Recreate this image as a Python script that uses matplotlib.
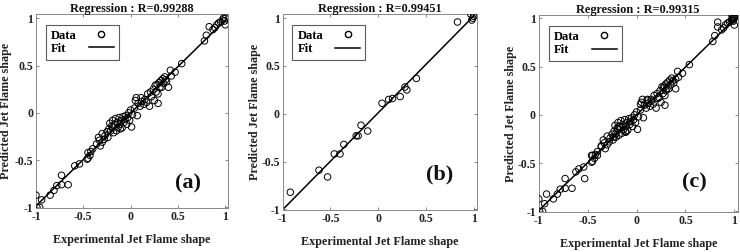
import numpy as np
import matplotlib
matplotlib.use('Agg')
import matplotlib.pyplot as plt
from matplotlib.lines import Line2D

plt.rcParams['font.family'] = 'Liberation Serif'
plt.rcParams['font.weight'] = 'bold'

# panel (a) data
x_a = [-1.00, -0.99, -0.96, -0.94, -0.85, -0.81, -0.78, -0.73, -0.73, -0.66,
       -0.59, -0.54, -0.46, -0.45, -0.43, -0.42, -0.40, -0.36, -0.34, -0.33,
       -0.32, -0.30, -0.30, -0.27, -0.25, -0.24, -0.23, -0.22, -0.21, -0.20,
       -0.19, -0.18, -0.17, -0.16, -0.15, -0.14, -0.13, -0.12, -0.11, -0.10,
       -0.09, -0.08, -0.07, -0.06, -0.05, -0.04, -0.03, -0.02, -0.01, 0.00,
       0.01, 0.02, 0.04, 0.05, 0.06, 0.07, 0.08, 0.10, 0.12, 0.15,
       0.17, 0.18, 0.20, 0.21, 0.22, 0.24, 0.25, 0.26, 0.27, 0.28,
       0.29, 0.29, 0.30, 0.31, 0.32, 0.33, 0.34, 0.35, 0.36, 0.37,
       0.38, 0.40, 0.42, 0.43, 0.47, 0.54, 0.78, 0.80, 0.83, 0.87,
       0.89, 0.91, 0.93, 0.95, 0.97, 0.98, 1.00, 1.00, 0.99, -0.45,
       -0.28, 0.11, 0.14, -0.19, -0.11]
y_a = [-0.87, -1.00, -1.00, -0.92, -0.87, -0.82, -0.77, -0.76, -0.66, -0.76,
       -0.56, -0.54, -0.49, -0.48, -0.45, -0.41, -0.38, -0.33, -0.26, -0.29,
       -0.35, -0.31, -0.22, -0.24, -0.20, -0.26, -0.17, -0.11, -0.19, -0.14,
       -0.08, -0.21, -0.12, -0.06, -0.19, -0.10, -0.15, -0.05, -0.12, -0.08,
       -0.16, -0.04, -0.10, -0.07, -0.03, -0.12, -0.05, 0.00, -0.08, 0.03,
       -0.15, -0.02, 0.05, 0.13, 0.16, -0.03, 0.10, 0.07, 0.12, 0.14,
       0.11, 0.20, 0.07, 0.22, 0.17, 0.25, 0.13, 0.29, 0.22, 0.30,
       0.10, 0.20, 0.32, 0.27, 0.34, 0.27, 0.36, 0.31, 0.38, 0.35,
       0.33, 0.27, 0.45, 0.39, 0.43, 0.52, 0.76, 0.82, 0.91, 0.88,
       0.90, 0.93, 0.95, 0.96, 0.98, 1.00, 0.93, 1.00, 0.97, -0.42,
       -0.28, 0.16, 0.09, -0.15, -0.17]

# panel (b) data
x_b = [-0.92, -0.62, -0.53, -0.46, -0.40, -0.36, -0.23, -0.21, -0.18, -0.11,
       0.04, 0.11, 0.15, 0.23, 0.28, 0.30, 0.40, 0.83, 0.97, 0.98, 1.00, 0.99]
y_b = [-0.82, -0.59, -0.66, -0.42, -0.42, -0.32, -0.23, -0.23, -0.12, -0.18,
       0.11, 0.15, 0.16, 0.18, 0.28, 0.25, 0.37, 0.96, 1.04, 0.98, 1.02, 1.00]

# panel (c): all data
x_c = x_a + x_b
y_c = y_a + y_b

titles = ['Regression : R=0.99288', 'Regression : R=0.99451', 'Regression : R=0.99315']
tags = ['(a)', '(b)', '(c)']
tick_vals = [-1, -0.5, 0, 0.5, 1]
tick_labels = ['-1', '-0.5', '0', '0.5', '1']

fig = plt.figure(figsize=(7.4, 2.52), dpi=100)
boxes = [[0.0486, 0.175, 0.259, 0.770],
         [0.382, 0.167, 0.262, 0.778],
         [0.728, 0.159, 0.269, 0.782]]
lims = [(1.025, 1.046), (1.03, 1.045), (1.035, 1.035)]
tag_pos = [(0.61, -0.75), (0.64, -0.63), (0.59, -0.70)]
ylab_pad = [2, 0, 0]

for i, (xs, ys) in enumerate([(x_a, y_a), (x_b, y_b), (x_c, y_c)]):
    ax = fig.add_axes(boxes[i])
    ax.scatter(xs, ys, s=22, facecolors='none', edgecolors='black', linewidths=0.7, zorder=3)
    k, b = np.polyfit(xs, ys, 1)
    xx = np.array([-1, 1])
    ax.plot(xx, k * xx + b, color='black', lw=1.1, zorder=2)
    ax.set_xlim(-1, lims[i][0])
    ax.set_ylim(-1.005, lims[i][1])
    ax.set_xticks(tick_vals)
    ax.set_xticklabels(tick_labels)
    ax.set_yticks(tick_vals)
    ax.set_yticklabels(tick_labels)
    ax.tick_params(direction='in', length=2, width=0.5, labelsize=8.5, pad=2,
                   top=True, right=True, colors='#555555', labelcolor='#222222')
    for sp in ax.spines.values():
        sp.set_color('#888888')
        sp.set_linewidth(0.7)
    ax.set_title(titles[i], fontsize=8.8, fontweight='bold', pad=1.5, color='#111111')
    ax.set_xlabel('Experimental Jet Flame shape', fontsize=8.7, fontweight='bold', labelpad=8, color='#222222')
    ax.set_ylabel('Predicted Jet Flame shape', fontsize=8.7, fontweight='bold', labelpad=ylab_pad[i], color='#222222')
    ax.text(tag_pos[i][0], tag_pos[i][1], tags[i], fontsize=16, fontweight='bold',
            ha='center', va='center', color='#111111')
    handles = [Line2D([], [], ls='none', marker='o', mfc='none', mec='black', ms=4.5, mew=1.0),
               Line2D([], [], color='black', lw=1.1)]
    leg = ax.legend(handles, ['Data', 'Fit'], loc='upper left', bbox_to_anchor=(0.05, 0.945),
                    markerfirst=False, fontsize=9, frameon=True, fancybox=False,
                    borderpad=0.4, labelspacing=0.1, handlelength=2.0, handletextpad=1.2,
                    borderaxespad=0)
    # MATLAB style: labels left, symbols right, both in columns
    for col in leg._legend_handle_box.get_children():
        col.align = 'left'
        for row in col.get_children():
            row.mode = 'expand'
            row.width = 63
    leg.get_frame().set_edgecolor('#333333')
    leg.get_frame().set_linewidth(0.8)
    for t in leg.get_texts():
        t.set_fontweight('bold')

fig.savefig('out.png', dpi=100)
